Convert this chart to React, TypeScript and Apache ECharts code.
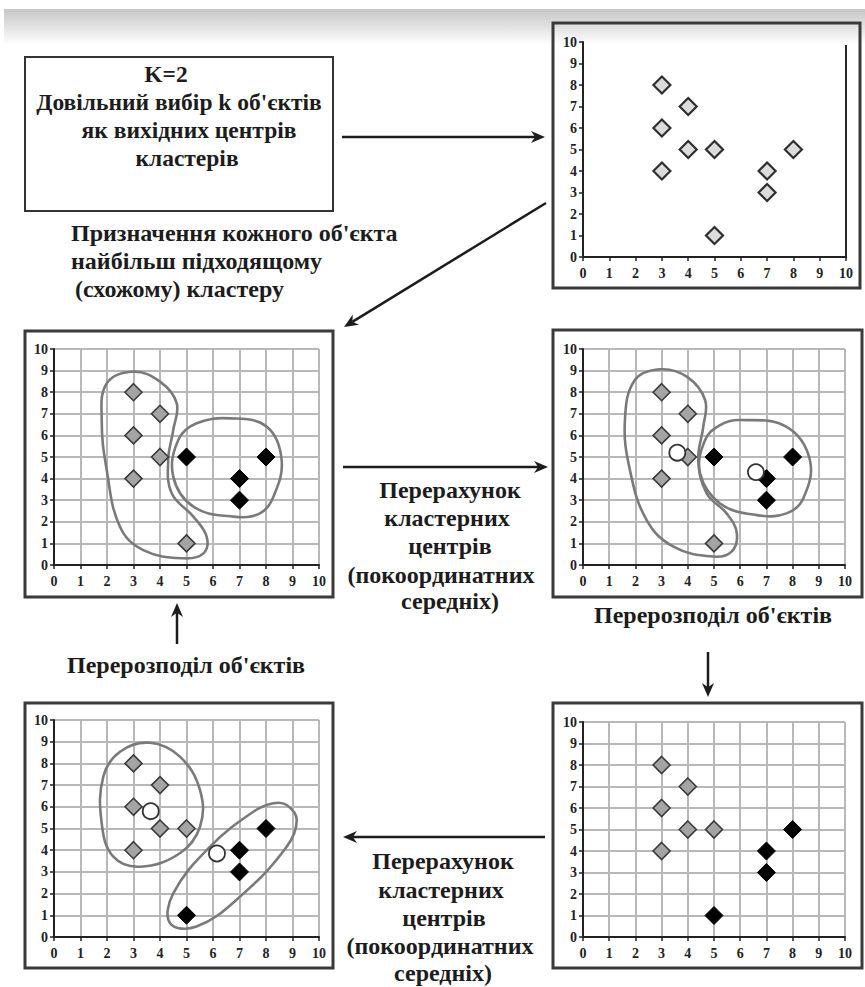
import React, { useEffect, useRef } from "react";
import * as echarts from "echarts";

// ---------- data ----------
const initialPoints = [[3, 8], [3, 6], [3, 4], [4, 7], [4, 5], [5, 5], [5, 1], [7, 4], [7, 3], [8, 5]];
const step1Gray = [[3, 8], [3, 6], [3, 4], [4, 7], [4, 5], [5, 1]];
const step1Black = [[5, 5], [7, 4], [7, 3], [8, 5]];
const step1Centers = [[3.6, 5.2], [6.6, 4.3]];
const step2Gray = [[3, 8], [3, 6], [3, 4], [4, 7], [4, 5], [5, 5]];
const step2Black = [[5, 1], [7, 4], [7, 3], [8, 5]];
const step2Centers = [[3.65, 5.8], [6.15, 3.85]];

// cluster outlines (data units)
const outlineA1 = [[2.99, 8.95], [4.0, 8.49], [4.63, 7.49], [4.5, 6.25], [4.31, 4.86], [4.44, 3.32], [5.26, 2.24], [5.76, 1.31], [5.64, 0.54], [4.88, 0.31], [3.37, 0.69], [2.49, 1.77], [1.99, 4.4], [1.8, 6.71], [1.99, 8.41]];
const outlineB1 = [[6.64, 6.79], [8.03, 6.4], [8.59, 4.86], [8.28, 3.16], [7.77, 2.39], [6.77, 2.24], [5.26, 2.7], [4.5, 4.09], [4.69, 5.79], [5.38, 6.56]];
const outlineA2 = [[2.94, 9.06], [3.96, 8.72], [4.66, 7.64], [4.59, 6.4], [4.4, 4.86], [4.72, 3.32], [5.48, 2.39], [5.87, 1.47], [5.67, 0.62], [4.97, 0.39], [3.45, 0.85], [2.43, 2.08], [1.79, 4.4], [1.6, 6.71], [1.98, 8.56]];
const outlineB2 = [[5.99, 6.71], [7.77, 6.4], [8.66, 4.86], [8.41, 3.09], [7.77, 2.39], [6.63, 2.31], [5.23, 2.85], [4.47, 4.24], [4.66, 5.79], [5.23, 6.48]];
const outlineA3 = [[3.62, 8.95], [4.75, 8.31], [5.51, 6.77], [5.51, 5.08], [4.75, 3.86], [3.25, 3.24], [2.24, 3.7], [1.8, 5.24], [1.86, 7.39], [2.49, 8.54]];
const outlineB3 = [[8.78, 6.08], [9.16, 5.39], [8.78, 4.16], [7.02, 1.86], [5.38, 0.48], [4.38, 0.63], [4.5, 2.01], [5.89, 4.16], [7.52, 5.77], [8.28, 6.16]];

const AXIS_MIN = 0;
const AXIS_MAX = 10;
const AXIS_STEP = 1;

// ---------- layout ----------
const grids = [
  { left: 583, top: 42, width: 263, height: 215 },
  { left: 54, top: 349, width: 265, height: 216 },
  { left: 583, top: 349, width: 262, height: 216 },
  { left: 54, top: 720, width: 265, height: 217 },
  { left: 583, top: 722, width: 262, height: 215 },
];
const panelBoxes = [
  [553, 23, 307, 265],
  [25, 331, 308, 266],
  [553, 330, 309, 267],
  [25, 703, 308, 265],
  [553, 703, 309, 265],
];

const FONT = "Liberation Serif";
const INK = "#1c1c1c";

function axis(kind: "x" | "y", i: number, lines: boolean) {
  return {
    type: "value",
    gridIndex: i,
    min: AXIS_MIN,
    max: AXIS_MAX,
    interval: AXIS_STEP,
    axisLine: { show: true, onZero: false, lineStyle: { color: "#222", width: 2 } },
    axisTick: { show: true, length: 4, lineStyle: { color: "#222", width: 1.5 } },
    axisLabel: {
      fontFamily: FONT,
      fontWeight: "bold",
      fontSize: 14,
      color: "#222",
      margin: kind === "x" ? 9 : 6,
    },
    splitLine: { show: lines, lineStyle: { color: "#b8b8b8", width: 2 } },
  };
}

function arrow(x1: number, y1: number, x2: number, y2: number) {
  const head = 14, w = 6;
  const dx = x2 - x1, dy = y2 - y1;
  const L = Math.hypot(dx, dy);
  const ux = dx / L, uy = dy / L;
  const bx = x2 - ux * head, by = y2 - uy * head;
  const nx = x2 - ux * head * 0.7, ny = y2 - uy * head * 0.7;
  return [
    { type: "line", z: 10, shape: { x1, y1, x2: nx, y2: ny }, style: { stroke: INK, lineWidth: 2.5 } },
    {
      type: "polygon",
      z: 10,
      shape: { points: [[x2, y2], [bx - uy * w, by + ux * w], [nx, ny], [bx + uy * w, by - ux * w]] },
      style: { fill: INK },
    },
  ];
}

function text(str: string, x: number, y: number, align = "center", size = 24) {
  return {
    type: "text",
    z: 10,
    x,
    y,
    style: {
      text: str,
      fontFamily: FONT,
      fontWeight: "bold",
      fontSize: size,
      fill: INK,
      align,
      verticalAlign: "middle",
    },
  };
}

function outlineSeries(i: number, pts: number[][]) {
  return {
    type: "custom",
    xAxisIndex: i,
    yAxisIndex: i,
    silent: true,
    clip: false,
    z: 3,
    data: [[0, 0]],
    renderItem: (_p: any, api: any) => ({
      type: "polygon",
      shape: { points: pts.map((p) => api.coord(p)), smooth: 0.4 },
      style: { fill: "none", stroke: "#7a7a7a", lineWidth: 2.6 },
    }),
  };
}

function scatter(i: number, data: number[][], kind: "light" | "gray" | "black" | "center") {
  const styles: any = {
    light: { symbol: "diamond", size: 17, item: { color: "#dcdcdc", borderColor: "#2e2e2e", borderWidth: 2.2 } },
    gray: { symbol: "diamond", size: 17, item: { color: "#a4a4a4", borderColor: "#3a3a3a", borderWidth: 1.6 } },
    black: { symbol: "diamond", size: 18, item: { color: "#000", borderColor: "#000", borderWidth: 1 } },
    center: { symbol: "circle", size: 16, item: { color: "#fff", borderColor: "#333", borderWidth: 1.8 } },
  };
  const s = styles[kind];
  return {
    type: "scatter",
    xAxisIndex: i,
    yAxisIndex: i,
    symbol: s.symbol,
    symbolSize: s.size,
    itemStyle: { ...s.item, opacity: 1 },
    data,
    z: 5,
  };
}

export default function App() {
  const ref = useRef<HTMLDivElement>(null);
  useEffect(() => {
    if (!ref.current) return;
    const chart = echarts.init(ref.current, null, { renderer: "svg" });

    const graphics: any[] = [];
    graphics.push({
      type: "rect",
      z: 0,
      shape: { x: 4, y: 9, width: 861, height: 36 },
      style: {
        fill: new echarts.graphic.LinearGradient(0, 0, 0, 1, [
          { offset: 0, color: "#c6c6c6" },
          { offset: 1, color: "#ffffff" },
        ]),
      },
    });
    panelBoxes.forEach(([x, y, w, h]) =>
      graphics.push({ type: "rect", z: 10, shape: { x, y, width: w, height: h }, style: { fill: "none", stroke: "#3a3a3a", lineWidth: 3 } })
    );
    graphics.push({ type: "rect", z: 10, shape: { x: 25, y: 57, width: 308, height: 154 }, style: { fill: "none", stroke: "#333", lineWidth: 2 } });

    graphics.push(text("K=2", 166, 74, "center", 23.5));
    graphics.push(text("Довільний вибір k об'єктів", 179, 102, "center", 23.5));
    graphics.push(text("як вихідних центрів", 189, 130, "center", 23.5));
    graphics.push(text("кластерів", 187, 158, "center", 23.5));

    graphics.push(text("Призначення кожного об'єкта", 71, 233, "left"));
    graphics.push(text("найбільш підходящому", 71, 261, "left"));
    graphics.push(text("(схожому) кластеру", 75, 289, "left"));

    const recompute = ["Перерахунок", "кластерних", "центрів", "(покоординатних", "середніх)"];
    const midX = [450, 447, 450, 441, 450];
    const midY = [490, 518, 546, 575, 601];
    recompute.forEach((s, k) => graphics.push(text(s, midX[k], midY[k])));
    const botX = [443, 441, 444, 440, 443];
    const botY = [861, 890, 918, 946, 973];
    recompute.forEach((s, k) => graphics.push(text(s, botX[k], botY[k])));

    graphics.push(text("Перерозподіл об'єктів", 186, 665));
    graphics.push(text("Перерозподіл об'єктів", 713, 615));

    graphics.push(...arrow(342, 137, 545, 137));
    graphics.push(...arrow(546, 203, 344, 327));
    graphics.push(...arrow(343, 467, 548, 467));
    graphics.push(...arrow(177, 644, 177, 603));
    graphics.push(...arrow(708, 652, 708, 697));
    graphics.push(...arrow(545, 837, 343, 837));

    const option: any = {
      animation: false,
      backgroundColor: "#ffffff",
      grid: grids.map((g, i) => ({
        ...g,
        show: i === 0,
        borderColor: "#2a2a2a",
        borderWidth: 2,
        backgroundColor: "transparent",
        containLabel: false,
      })),
      xAxis: grids.map((_, i) => axis("x", i, i !== 0)),
      yAxis: grids.map((_, i) => axis("y", i, i !== 0)),
      series: [
        scatter(0, initialPoints, "light"),
        outlineSeries(1, outlineA1),
        outlineSeries(1, outlineB1),
        scatter(1, step1Gray, "gray"),
        scatter(1, step1Black, "black"),
        outlineSeries(2, outlineA2),
        outlineSeries(2, outlineB2),
        scatter(2, step1Gray, "gray"),
        scatter(2, step1Black, "black"),
        scatter(2, step1Centers, "center"),
        outlineSeries(3, outlineA3),
        outlineSeries(3, outlineB3),
        scatter(3, step2Gray, "gray"),
        scatter(3, step2Black, "black"),
        scatter(3, step2Centers, "center"),
        scatter(4, step2Gray, "gray"),
        scatter(4, step2Black, "black"),
      ],
      graphic: { elements: graphics },
    };
    chart.setOption(option);
    return () => chart.dispose();
  }, []);
  return (
    <div
      ref={ref}
      style={{ position: "absolute", left: 0, top: 0, width: 865, height: 987, background: "#fff" }}
    />
  );
}
